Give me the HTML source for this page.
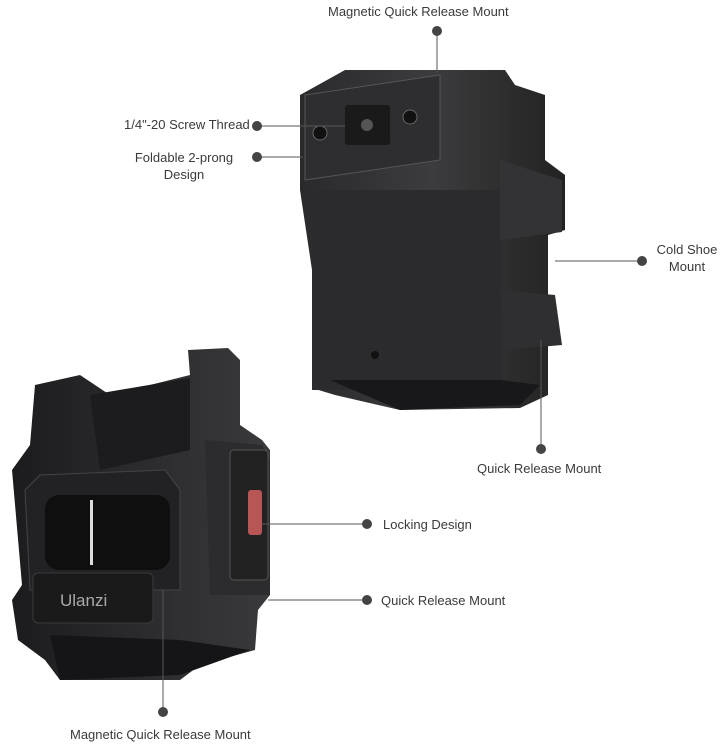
<!DOCTYPE html>
<html><head><meta charset="utf-8"><style>
html,body{margin:0;padding:0;background:#fff}
body{width:726px;height:748px;position:relative;overflow:hidden;font-family:"Liberation Sans",sans-serif}
.t{position:absolute;font-size:13px;color:#3a3a3a;line-height:17px;white-space:nowrap}
</style></head><body>
<svg width="726" height="748" style="position:absolute;left:0;top:0">
<defs>
<linearGradient id="g1" x1="0" x2="1"><stop offset="0" stop-color="#2a2a2c"/><stop offset=".5" stop-color="#3c3c3e"/><stop offset="1" stop-color="#222"/></linearGradient>
<linearGradient id="g2" x1="0" x2="1"><stop offset="0" stop-color="#1c1c1e"/><stop offset="1" stop-color="#3a3a3c"/></linearGradient>
</defs>
<!-- top product -->
<path d="M300 95 L345 70 L505 70 L515 85 L545 95 L545 160 L565 175 L565 230 L548 235 L548 330 L548 395 L520 408 L400 410 L335 395 L312 388 L312 270 L300 190 Z" fill="url(#g1)"/>
<path d="M305 95 L440 75 L440 160 L305 180 Z" fill="#2e2e30" stroke="#555" stroke-width="1"/>
<rect x="345" y="105" width="45" height="40" rx="3" fill="#1a1a1a"/>
<circle cx="367" cy="125" r="6" fill="#555"/>
<circle cx="320" cy="133" r="7" fill="#111" stroke="#666"/>
<circle cx="410" cy="117" r="7" fill="#111" stroke="#666"/>
<rect x="312" y="190" width="190" height="200" fill="#2b2b2d"/>
<path d="M500 160 L562 180 L562 232 L500 240 Z" fill="#333335"/>
<path d="M500 290 L555 295 L562 345 L505 350 Z" fill="#2f2f31"/>
<path d="M330 380 L400 410 L520 405 L540 385 L500 380 Z" fill="#18181a"/>
<circle cx="375" cy="355" r="4" fill="#111"/>
<!-- bottom product -->
<path d="M188 350 L228 348 L240 360 L240 425 L262 440 L270 450 L270 595 L258 610 L255 650 L200 665 L180 680 L60 680 L45 660 L18 640 L12 600 L22 585 L12 470 L30 445 L35 385 L80 375 L110 395 L190 375 Z" fill="url(#g2)"/>
<path d="M90 395 L190 378 L190 450 L100 470 Z" fill="#1c1c1e"/>
<path d="M25 490 L40 475 L165 470 L180 490 L180 590 L30 590 Z" fill="#222224" stroke="#444"/>
<rect x="45" y="495" width="125" height="75" rx="14" fill="#0f0f10"/>
<rect x="90" y="500" width="3" height="65" fill="#ddd"/>
<rect x="33" y="573" width="120" height="50" rx="5" fill="#1a1a1b" stroke="#3a3a3c"/>
<text x="60" y="606" font-family="Liberation Sans" font-size="17" fill="#aaa">Ulanzi</text>
<path d="M205 440 L262 445 L270 460 L270 595 L210 595 Z" fill="#2c2c2e"/>
<rect x="230" y="450" width="38" height="130" rx="4" fill="#222" stroke="#555"/>
<rect x="248" y="490" width="14" height="45" rx="3" fill="#b85555"/>
<path d="M50 635 L180 640 L250 650 L180 675 L60 680 Z" fill="#151517"/>
<!-- connectors -->
<g stroke="#555" stroke-width="1" fill="none">
<line x1="437" y1="31" x2="437" y2="72"/>
<line x1="257" y1="126" x2="345" y2="126"/>
<line x1="257" y1="157" x2="303" y2="157"/>
<line x1="555" y1="261" x2="642" y2="261"/>
<line x1="541" y1="340" x2="541" y2="449"/>
<line x1="262" y1="524" x2="367" y2="524"/>
<line x1="268" y1="600" x2="367" y2="600"/>
<line x1="163" y1="590" x2="163" y2="712"/>
</g>
<g fill="#444">
<circle cx="437" cy="31" r="5"/><circle cx="257" cy="126" r="5"/><circle cx="257" cy="157" r="5"/>
<circle cx="642" cy="261" r="5"/><circle cx="541" cy="449" r="5"/><circle cx="367" cy="524" r="5"/>
<circle cx="367" cy="600" r="5"/><circle cx="163" cy="712" r="5"/>
</g>
</svg>
<div class="t" style="left:328px;top:3px">Magnetic Quick Release Mount</div>
<div class="t" style="left:124px;top:116px">1/4"-20 Screw Thread</div>
<div class="t" style="left:124px;top:149px;width:120px;text-align:center">Foldable 2-prong<br>Design</div>
<div class="t" style="left:650px;top:241px;width:74px;text-align:center">Cold Shoe<br>Mount</div>
<div class="t" style="left:477px;top:460px">Quick Release Mount</div>
<div class="t" style="left:383px;top:516px">Locking Design</div>
<div class="t" style="left:381px;top:592px">Quick Release Mount</div>
<div class="t" style="left:70px;top:726px">Magnetic Quick Release Mount</div>
</body></html>
